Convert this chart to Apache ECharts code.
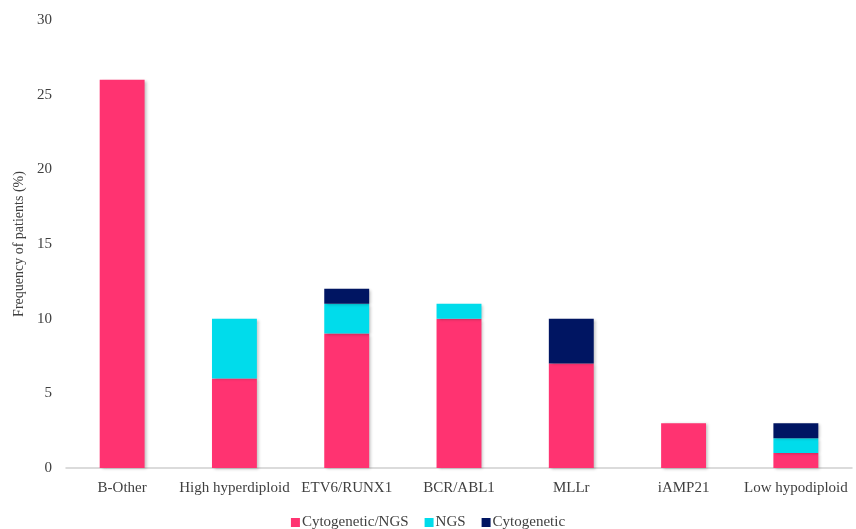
<!DOCTYPE html>
<html>
<head>
<meta charset="utf-8">
<style>
  html, body { margin: 0; padding: 0; background: #fff; }
  #chart { width: 856px; height: 529px; }
</style>
<script src="https://cdn.jsdelivr.net/npm/echarts@6/dist/echarts.min.js"></script>
</head>
<body>
<div id="chart"></div>
<script>
// Leukaemia subtypes and how each was identified
const categories = ['B-Other', 'High hyperdiploid', 'ETV6/RUNX1', 'BCR/ABL1', 'MLLr', 'iAMP21', 'Low hypodiploid'];
const cytogeneticNGS = [26, 6, 9, 10, 7, 3, 1];
const ngsOnly = [0, 4, 2, 1, 0, 0, 1];
const cytogeneticOnly = [0, 0, 1, 0, 3, 0, 1];
const yTicks = [0, 5, 10, 15, 20, 25, 30];

const FONT = '"Liberation Serif", "Times New Roman", serif';
const shadow = { shadowColor: 'rgba(0,0,0,0.25)', shadowBlur: 3, shadowOffsetX: 2, shadowOffsetY: 1 };

function bar(name, data, color) {
  return {
    name, type: 'bar', stack: 'total', data, barWidth: '40%',
    itemStyle: Object.assign({ color }, shadow)
  };
}

const chart = echarts.init(document.getElementById('chart'));
chart.setOption({
  animation: false,
  textStyle: { fontFamily: FONT },
  grid: { left: 66, right: 4, top: 20, bottom: 61 },
  legend: {
    top: 510, left: 'center', itemWidth: 9, itemHeight: 9, itemGap: 16,
    icon: 'rect',
    textStyle: { fontFamily: FONT, fontSize: 15, color: '#404040', padding: [0, 0, 0, -3] },
    data: ['Cytogenetic/NGS', 'NGS', 'Cytogenetic']
  },
  xAxis: {
    type: 'category', data: categories,
    axisLine: { lineStyle: { color: '#d0d0d0', width: 1.5 } },
    axisTick: { show: false },
    axisLabel: { interval: 0, fontFamily: FONT, fontSize: 15, color: '#404040', margin: 13 }
  },
  yAxis: {
    type: 'value', min: yTicks[0], max: yTicks[yTicks.length - 1], interval: 5,
    name: 'Frequency of patients (%)', nameLocation: 'middle', nameGap: 40,
    nameTextStyle: { fontFamily: FONT, fontSize: 14, color: '#404040' },
    axisLine: { show: false }, axisTick: { show: false },
    splitLine: { show: false },
    axisLabel: { fontFamily: FONT, fontSize: 15, color: '#404040', margin: 14 }
  },
  series: [
    bar('Cytogenetic/NGS', cytogeneticNGS, '#FF3371'),
    bar('NGS', ngsOnly, '#00DCEB'),
    bar('Cytogenetic', cytogeneticOnly, '#001562')
  ]
});
</script>
</body>
</html>
